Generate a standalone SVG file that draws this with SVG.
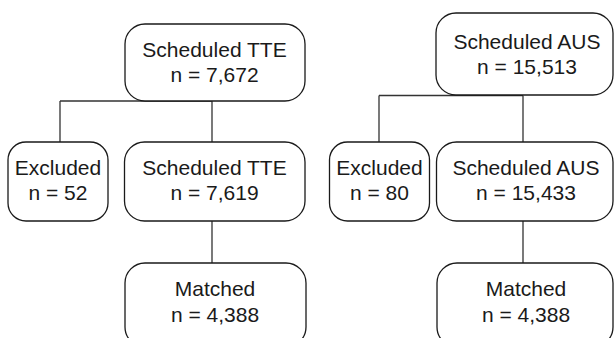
<svg xmlns="http://www.w3.org/2000/svg" width="614" height="338" viewBox="0 0 614 338">
<style>
.box{fill:#fff;stroke:#1a1a1a;stroke-width:1.3}
.c{fill:none;stroke:#333;stroke-width:1.3}
text{font-family:"Liberation Sans",Arial,sans-serif;font-size:21px;fill:#1a1a1a;text-anchor:middle}
</style>
<rect width="614" height="338" fill="#fff"/>
<g id="connectors">
<path class="c" d="M60,101 H212 M60,101 V142 M212,101 V142 M212,221 V263"/>
<path class="c" d="M379,95.5 H523 M379,95.5 V142 M523,95.5 V142 M523,221 V263"/>
</g>
<g id="tte-scheduled">
<rect class="box" x="125" y="24" width="180" height="77" rx="20"/>
<text x="214.5" y="57">Scheduled TTE</text>
<text x="214.5" y="82">n = 7,672</text>
</g>
<g id="tte-excluded">
<rect class="box" x="8" y="142" width="100" height="79" rx="18"/>
<text x="58" y="175">Excluded</text>
<text x="58" y="200">n = 52</text>
</g>
<g id="tte-scheduled2">
<rect class="box" x="124.5" y="142" width="180.5" height="79" rx="20"/>
<text x="214.5" y="175">Scheduled TTE</text>
<text x="214.5" y="200">n = 7,619</text>
</g>
<g id="tte-matched">
<rect class="box" x="125" y="263" width="181" height="84" rx="20"/>
<text x="215" y="296">Matched</text>
<text x="215" y="322">n = 4,388</text>
</g>
<g id="aus-scheduled">
<rect class="box" x="436" y="13" width="177" height="82" rx="20"/>
<text x="527" y="49">Scheduled AUS</text>
<text x="527" y="74">n = 15,513</text>
</g>
<g id="aus-excluded">
<rect class="box" x="329.5" y="142" width="100" height="79" rx="18"/>
<text x="379.5" y="175">Excluded</text>
<text x="379.5" y="200">n = 80</text>
</g>
<g id="aus-scheduled2">
<rect class="box" x="436.5" y="142" width="176.5" height="79" rx="20"/>
<text x="526" y="175">Scheduled AUS</text>
<text x="526" y="200">n = 15,433</text>
</g>
<g id="aus-matched">
<rect class="box" x="437" y="263" width="176" height="84" rx="20"/>
<text x="526" y="296">Matched</text>
<text x="526" y="322">n = 4,388</text>
</g>
</svg>
